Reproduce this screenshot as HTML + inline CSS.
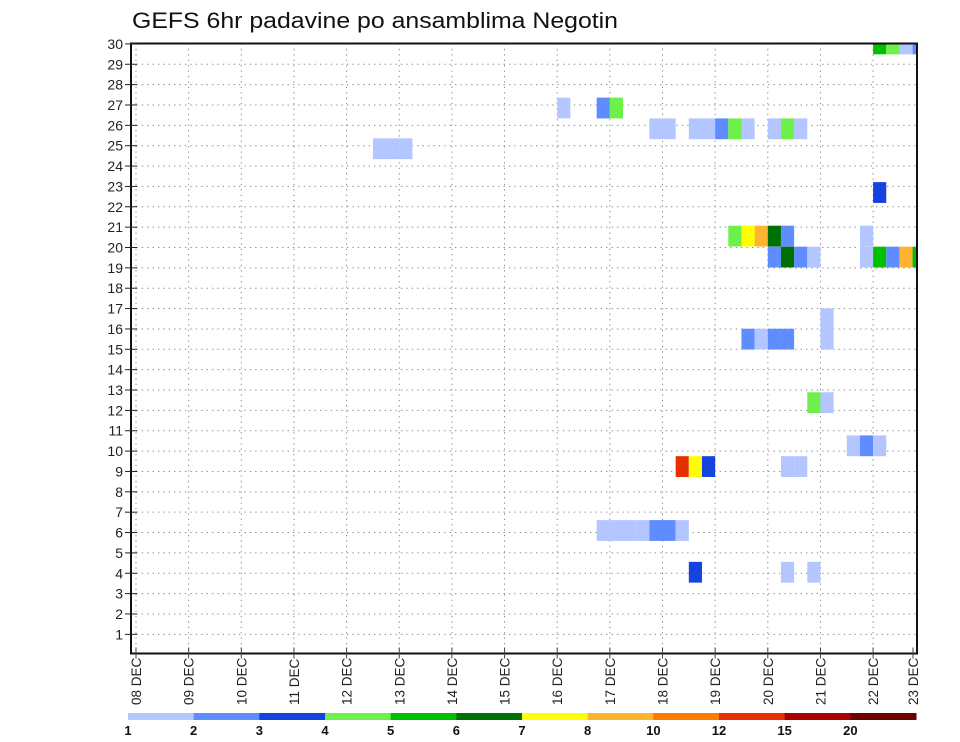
<!DOCTYPE html>
<html><head><meta charset="utf-8"><style>
html,body{margin:0;padding:0;background:#fff;}
svg{display:block;font-family:"Liberation Sans",sans-serif;}
</style></head><body>
<svg id="chart" width="960" height="742" viewBox="0 0 960 742" xmlns="http://www.w3.org/2000/svg">
<text x="132" y="28" font-size="22" textLength="486" lengthAdjust="spacingAndGlyphs" fill="#111">GEFS 6hr padavine po ansamblima Negotin</text>
<g id="grid"></g>
<g id="cells"></g>
<g id="axes"></g>
<g id="legend"></g>
</svg>
<script>
// data
const dayLabels = ["08 DEC","09 DEC","10 DEC","11 DEC","12 DEC","13 DEC","14 DEC","15 DEC","16 DEC","17 DEC","18 DEC","19 DEC","20 DEC","21 DEC","22 DEC","23 DEC"];
const memberTicks = [1,2,3,4,5,6,7,8,9,10,11,12,13,14,15,16,17,18,19,20,21,22,23,24,25,26,27,28,29,30];
const levelLabels = ["1","2","3","4","5","6","7","8","10","12","15","20"];
const levelBounds = [1,2,3,4,5,6,7,8,10,12,15,20];
const levelColors = ["#b4c6ff","#5f8cff","#1443e0","#6df04a","#00c000","#007000","#ffff00","#ffb430","#ff7a00","#e63000","#aa0000","#6e0000"];
// cells: member (observed row position), time step (6h index from 08 DEC 00Z), precip value
const cellRows  = [30,30,30,30, 26.85,26.85,26.85, 25.83,25.83,25.83,25.83,25.83,25.83,25.83,25.83,25.83,25.83, 24.85,24.85,24.85, 22.7,
  20.56,20.56,20.56,20.56,20.56,20.56, 19.53,19.53,19.53,19.53,19.53,19.53,19.53,19.53,19.53,
  16.5,15.5,15.5,15.5,15.5,15.5, 12.38,12.38, 10.26,10.26,10.26, 9.24,9.24,9.24,9.24,9.24,
  6.1,6.1,6.1,6.1,6.1,6.1,6.1, 4.05,4.05,4.05];
const cellSteps = [56,57,58,59, 32,35,36, 39,40,42,43,44,45,46,48,49,50, 18,19,20, 56,
  45,46,47,48,49,55, 48,49,50,51,55,56,57,58,59,
  52,52,46,47,48,49, 51,52, 54,55,56, 41,42,43,49,50,
  35,36,37,38,39,40,41, 42,49,51];
const cellValues = [5.5,4.5,1.5,2.5, 1.5,2.5,4.5, 1.5,1.5,1.5,1.5,2.5,4.5,1.5,1.5,4.5,1.5, 1.5,1.5,1.5, 3.5,
  4.5,7.5,9,6.5,2.5,1.5, 2.5,6.5,2.5,1.5,1.5,5.5,2.5,9,5.5,
  1.5,1.5,2.5,1.5,2.5,2.5, 4.5,1.5, 1.5,2.5,1.5, 13,7.5,3.5,1.5,1.5,
  1.5,1.5,1.5,1.5,2.5,2.5,1.5, 3.5,1.5,1.5];

const NS="http://www.w3.org/2000/svg";
const L=131,R=917,T=43.5,B=653.5;
const X0=136, DX=52.65;
const xDay=d=>X0+d*DX;
const xStep=s=>X0+s*DX/4;
const yVal=r=>654.7-r*20.36;
function mk(tag,attrs,parent){const e=document.createElementNS(NS,tag);for(const k in attrs)e.setAttribute(k,attrs[k]);parent.appendChild(e);return e;}
function colorFor(v){let c=levelColors[0];for(let i=0;i<levelBounds.length;i++){if(v>=levelBounds[i])c=levelColors[i];}return c;}

const grid=document.getElementById('grid');
memberTicks.forEach(m=>{
  const l=mk('line',{x1:L,x2:R,y1:yVal(m),y2:yVal(m),stroke:'#888','stroke-width':1,'stroke-dasharray':'1.3,4.1'},grid);
  
  
});
dayLabels.forEach((d,i)=>{
  const x=xDay(i); if(x>R) return;
  const l=mk('line',{x1:x,x2:x,y1:T,y2:B,stroke:'#888','stroke-width':1,'stroke-dasharray':'1.3,4.1'},grid);
  
  
});

const cg=document.getElementById('cells');
const clip=mk('clipPath',{id:'plotclip'},mk('defs',{},cg));
mk('rect',{x:L,y:T,width:R-L,height:B-T},clip);
const cellsInner=mk('g',{'clip-path':'url(#plotclip)'},cg);
cellRows.forEach((r,i)=>{
  const x=xStep(cellSteps[i]), w=DX/4, h=20.8;
  const rc=mk('rect',{x:x,y:yVal(r)-h/2,width:w,height:h,fill:colorFor(cellValues[i])},cellsInner);
  
  
});

const ax=document.getElementById('axes');
const fr=mk('rect',{x:L,y:T,width:R-L,height:B-T,fill:'none',stroke:'#111','stroke-width':2},ax);


memberTicks.forEach(m=>{
  const y=yVal(m);
  mk('line',{x1:125,x2:137,y1:y,y2:y,stroke:'#222','stroke-width':1},ax);
  const t=mk('text',{x:123,y:y+5,'font-size':14,'text-anchor':'end',fill:'#222'},ax);
  t.textContent=m;
  
  
});
dayLabels.forEach((d,i)=>{
  let x=xDay(i); if(x>R) x=913;
  mk('line',{x1:x,x2:x,y1:B-6,y2:B+5,stroke:'#444','stroke-width':1},ax);
  const t=mk('text',{x:0,y:0,'font-size':13.5,'text-anchor':'start',fill:'#222',transform:`translate(${x+5},${705}) rotate(-90)`},ax);
  t.textContent=d;
  
  
});

const lg=document.getElementById('legend');
const lx0=128,lx1=916,n=levelColors.length,lw=(lx1-lx0)/n;
levelColors.forEach((c,i)=>{
  const r=mk('rect',{x:lx0+i*lw,y:713,width:lw+0.5,height:7,fill:c},lg);
  
  
});
levelLabels.forEach((s,i)=>{
  const t=mk('text',{x:lx0+i*lw,y:735,'font-size':13,'font-weight':'bold','text-anchor':'middle',fill:'#111'},lg);
  t.textContent=s;
  
  
});
</script>
</body></html>
